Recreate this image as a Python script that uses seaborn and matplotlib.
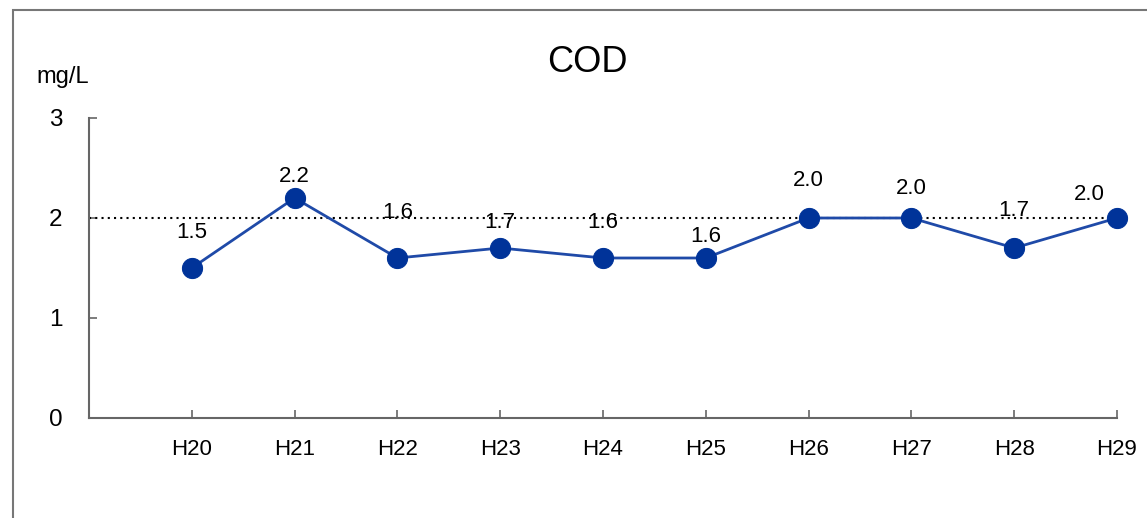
import numpy as np
import pandas as pd
import matplotlib
matplotlib.use("Agg")
import matplotlib.pyplot as plt
import seaborn as sns
from matplotlib.patches import Rectangle

sns.set_style("white")
plt.rcParams['font.family'] = ['Liberation Sans', 'DejaVu Sans']
plt.rcParams['text.color'] = 'black'
plt.rcParams['xtick.labelcolor'] = 'black'
plt.rcParams['ytick.labelcolor'] = 'black'

# data
years = ['H20', 'H21', 'H22', 'H23', 'H24', 'H25', 'H26', 'H27', 'H28', 'H29']
cod = [1.5, 2.2, 1.6, 1.7, 1.6, 1.6, 2.0, 2.0, 1.7, 2.0]
standard = 2.0
y_ticks = [0, 1, 2, 3]

df = pd.DataFrame({'year': years, 'cod': cod})

# label offsets above points (pixels), hand placed like the original
lab_dy = [35, 21, 46, 25, 35, 21, 37, 30, 37, 24]
lab_dx = [0, 0, 0, 0, 0, 0, 0, 0, 0, -28]

fig = plt.figure(figsize=(11.47, 5.18), dpi=100)
ax = fig.add_axes([89/1147, 1 - 418/518, (1117 - 89)/1147, 300/518])

# outer frame, cut off at right and bottom
fig.patches.append(Rectangle((13/1147, -0.05), 1.2, 1 - 10/518 + 0.05,
                             transform=fig.transFigure, fill=False,
                             edgecolor='#777777', lw=1.5, zorder=0))

ax.axhline(standard, color='black', ls=(0, (1, 2)), lw=1.5, zorder=1)
sns.lineplot(data=df, x='year', y='cod', ax=ax, color='#1f4aa8', lw=2,
             marker='o', markersize=14.5, markerfacecolor='#003399',
             markeredgecolor='#003399', zorder=3, sort=False, clip_on=False)

for i, v in enumerate(cod):
    ax.annotate(f'{v:.1f}', (i, v), xytext=(lab_dx[i]*0.72, lab_dy[i]*0.72),
                textcoords='offset points', ha='center', va='center',
                fontsize=16, color='black', zorder=4)

ax.set_xlim(-1, len(years) - 1)
ax.set_ylim(0, 3)
ax.set_yticks(y_ticks)
ax.set_xlabel('')
ax.set_ylabel('')
ax.tick_params(axis='y', direction='in', length=6, width=1.2, color='#666666',
               labelsize=17.5, pad=19, left=True)
ax.tick_params(axis='x', direction='in', length=6, width=1.2, color='#666666',
               labelsize=16, pad=15, bottom=True)

for s in ['top', 'right']:
    ax.spines[s].set_visible(False)
for s in ['left', 'bottom']:
    ax.spines[s].set_color('#666666')
    ax.spines[s].set_linewidth(1.5)

fig.text(587/1147, 1 - 62/518, 'COD', ha='center', va='center', fontsize=26)
fig.text(36/1147, 1 - 77/518, 'mg/L', ha='left', va='center', fontsize=17)

fig.savefig('out.png', dpi=100)
